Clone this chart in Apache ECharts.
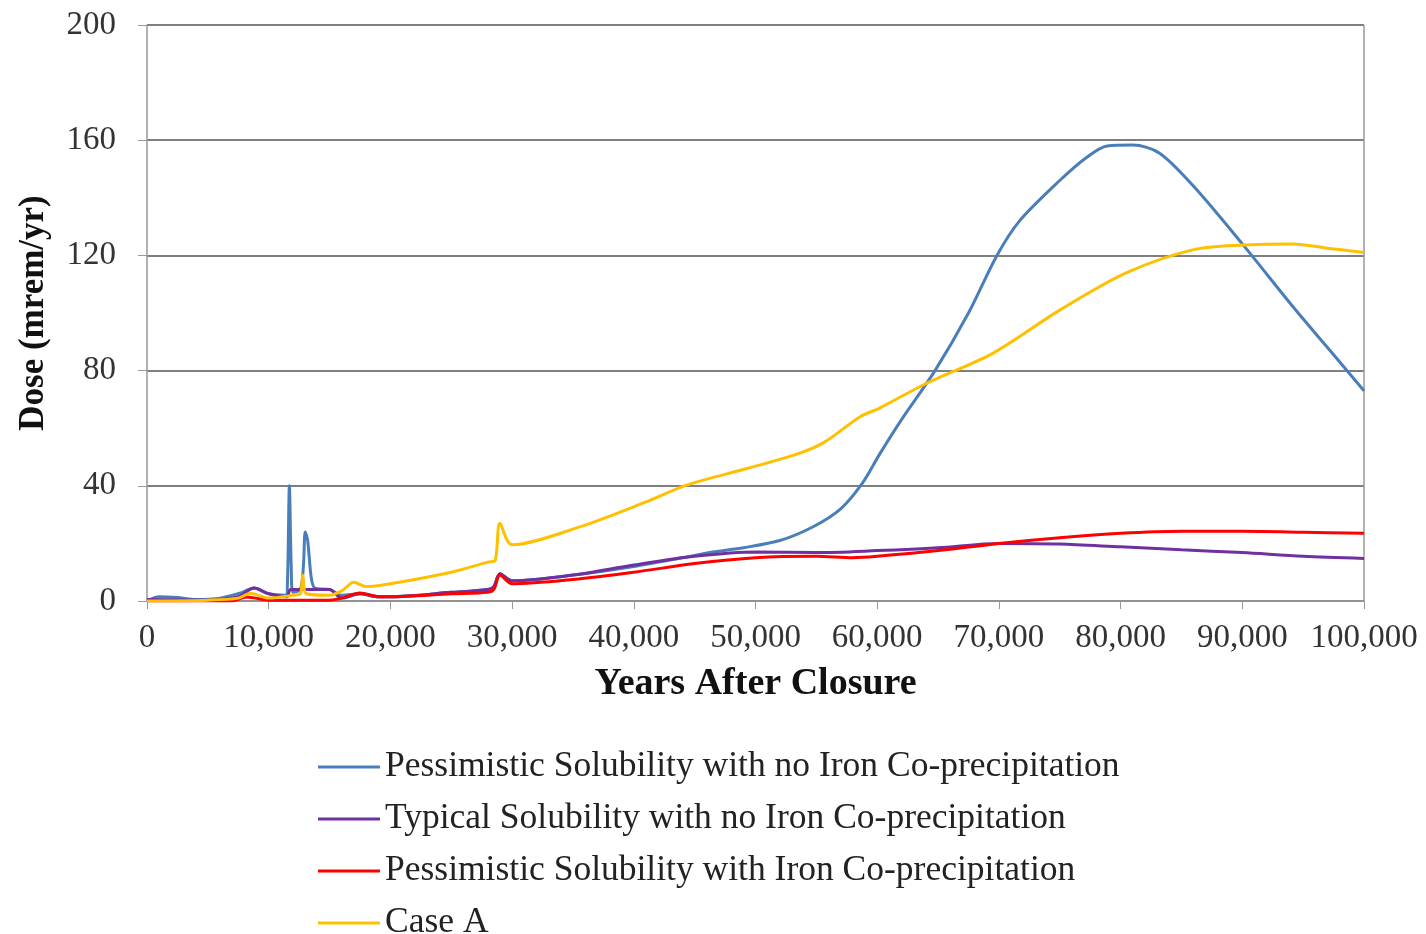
<!DOCTYPE html>
<html>
<head>
<meta charset="utf-8">
<script src="https://cdn.jsdelivr.net/npm/echarts@6/dist/echarts.min.js"></script>
<style>html,body{margin:0;padding:0;background:#fff}#c{width:1426px;height:934px}</style>
</head>
<body>
<div id="c"></div>
<script>
const seriesNames = [
  "Pessimistic Solubility with no Iron Co-precipitation",
  "Typical Solubility with no Iron Co-precipitation",
  "Pessimistic Solubility with Iron Co-precipitation",
  "Case A"
];
const xTicks = [0,10000,20000,30000,40000,50000,60000,70000,80000,90000,100000];
const yTicks = [0,40,80,120,160,200];

const pessNoFeYears = [0,1000,2500,4000,6000,7600,8800,10000,11400,11550,11700,11850,12000,12600,12850,13000,13200,13500,13800,15000,16000,17500,19000,20000,25000,28000,28500,29000,30000,35000,40000,44000,46500,49000,52000,54700,57000,58800,60200,62000,64750,67500,69840,71700,75000,77200,78900,81000,83200,86000,90000,94200,97000,100000];
const pessNoFeDose  = [0,1.5,1.2,0.5,1,2.7,4.5,2.5,2,8,40,12,3,4,12,24,21,8,4.5,4,2,2.5,1.5,1.5,3,4,5,9.5,7,9,12,15,17,18.5,21,25.7,32,41,51,63,80,100,120,132,146,154,158,158.3,155.5,144,124,102,88,73];

const typNoFeYears = [0,5000,7500,8800,10000,11500,11800,15000,16000,17500,19000,20000,25000,28000,28500,29000,30000,35000,40000,45000,50000,55000,60000,65000,70000,75000,80000,85000,90000,95000,100000];
const typNoFeDose  = [0.5,0.3,1.5,4.5,2.5,1.5,4,4,1,2.5,1.5,1.5,3,4,5,9.5,7,9,12.5,15.5,17,16.8,17.5,18.5,20,19.8,18.8,17.8,16.8,15.5,14.8];

const pessFeYears = [0,7000,8200,10000,12000,15000,16000,17500,19000,20000,25000,28000,28500,29000,30000,35000,40000,45000,50000,55000,58000,60000,65000,70000,75000,80000,85000,90000,95000,100000];
const pessFeDose  = [0,0,1.4,0.3,0.3,0.3,1,2.8,1.5,1.5,2.5,3,4,9,6,7.5,10,13,15,15.5,15,15.5,17.5,20,22,23.5,24.2,24.2,23.9,23.5];

const caseAYears = [0,5000,7500,8500,10000,12000,12600,12800,13100,15000,16000,17000,18000,20000,25000,28000,28600,29000,30000,35600,41000,44400,49300,53400,55600,58600,60200,64100,69500,75000,80500,86000,90000,94200,97000,100000];
const caseADose  = [0,0.3,1,2.7,1,2,2.5,9,2.5,2,3.5,6.5,5,6,10,13.5,14,27,19.5,25.8,34.4,40.3,46,51,55,64,67,75.7,86,101,114,122,123.6,124,122.5,121];

function pairs(xs, ys){ return xs.map((x,i)=>[x, ys[i]]); }

const colors = ["#4A7EBB","#7030A0","#FF0000","#FFC000"];
const dataSets = [
  pairs(pessNoFeYears, pessNoFeDose),
  pairs(typNoFeYears, typNoFeDose),
  pairs(pessFeYears, pessFeDose),
  pairs(caseAYears, caseADose)
];

const font = "'Liberation Serif','Times New Roman',serif";
const chart = echarts.init(document.getElementById('c'), null, {renderer:'canvas'});
chart.setOption({
  animation:false,
  backgroundColor:'#fff',
  color:colors,
  grid:{left:147,right:62,top:25,bottom:333,containLabel:false,show:false},
  legend:{
    orient:'vertical', left:318, top:749, height:260, padding:0,
    icon:'rect', itemWidth:62, itemHeight:3, itemGap:16,
    textStyle:{fontFamily:font,fontSize:35.5,color:'#222',lineHeight:30},
    data:seriesNames
  },
  xAxis:{
    type:'value', min:xTicks[0], max:xTicks[xTicks.length-1], interval:10000,
    name:'Years After Closure', nameLocation:'middle', nameGap:64,
    nameTextStyle:{fontFamily:font,fontSize:38,fontWeight:'bold',color:'#111'},
    axisLine:{show:true,lineStyle:{color:'#999',width:1.5}},
    axisTick:{show:true,length:8,lineStyle:{color:'#999'}},
    axisLabel:{fontFamily:font,fontSize:33,color:'#333',margin:21,
      formatter:v=>v.toLocaleString('en-US')},
    splitLine:{show:false}
  },
  yAxis:{
    type:'value', min:yTicks[0], max:yTicks[yTicks.length-1], interval:40,
    name:'Dose (mrem/yr)', nameLocation:'middle', nameGap:96, nameRotate:90,
    nameTextStyle:{fontFamily:font,fontSize:35,fontWeight:'bold',color:'#111'},
    axisLine:{show:true,lineStyle:{color:'#999',width:1.5}},
    axisTick:{show:true,length:9,inside:false,lineStyle:{color:'#999'}},
    axisLabel:{fontFamily:font,fontSize:33,color:'#333',margin:31},
    splitLine:{show:true,lineStyle:{color:'#555',width:1.5}}
  },
  series:[
    ...dataSets.map((d,i)=>({
      name:seriesNames[i], type:'line', data:d, showSymbol:false, symbol:'none',
      smooth:0.3,
      lineStyle:{width:3,color:colors[i]}, z:2+i
    })),
    {type:'line', data:[[100000,0],[100000,200]], showSymbol:false, symbol:'none', silent:true,
     lineStyle:{color:'#999',width:1.5}, z:1, legendHoverLink:false, tooltip:{show:false}}
  ]
});
</script>
</body>
</html>
